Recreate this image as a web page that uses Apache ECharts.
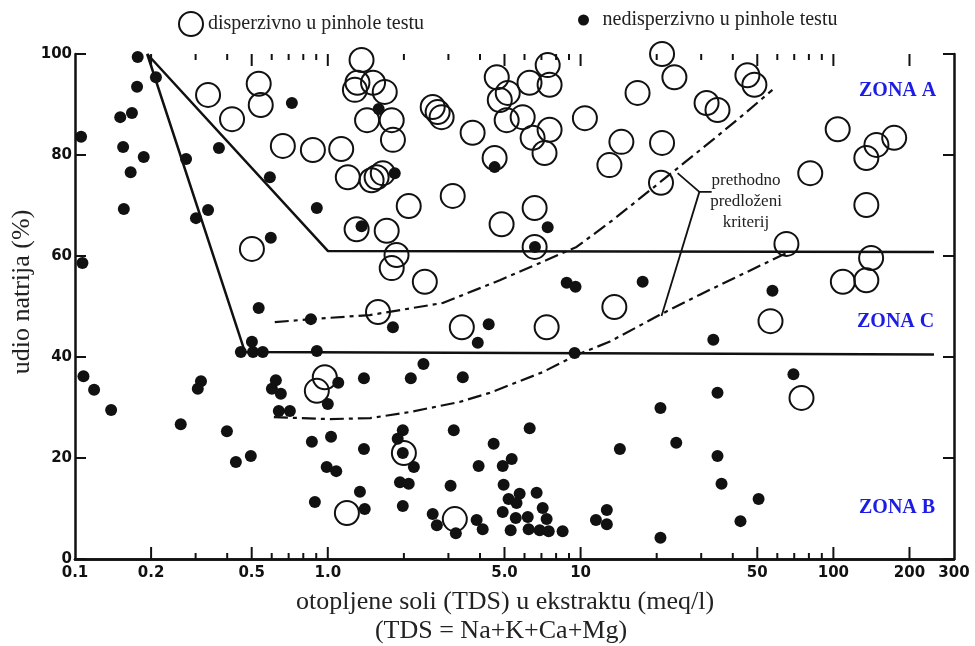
<!DOCTYPE html>
<html>
<head>
<meta charset="utf-8">
<script src="https://cdn.jsdelivr.net/npm/echarts@6/dist/echarts.min.js"></script>
<style>html,body{margin:0;padding:0;background:#fff;}#c{width:975px;height:646px;}</style>
</head>
<body>
<div id="c"></div>
<script>
// ---- tick data ----
const xTickValues = [0.1, 0.2, 0.5, 1, 5, 10, 50, 100, 200, 300];
const xTickLabels = ['0.1', '0.2', '0.5', '1.0', '5.0', '10', '50', '100', '200', '300'];
const xMajorTicks = [0.2, 0.5, 1, 5, 10, 50, 100, 200];
const xMinorTicks = [0.3, 0.4, 0.6, 0.7, 0.8, 0.9, 2, 3, 4, 6, 7, 8, 9, 20, 30, 40, 60, 70, 80, 90];

// ---- series names ----
const nameOpen = 'disperzivno u pinhole testu';
const nameFilled = 'nedisperzivno u pinhole testu';

// ---- dispersive (open circles) [TDS, Na%] ----
const dispersive = [
  [0.336,91.9],[0.418,87.1],[0.533,94.1],[0.543,89.9],[0.664,81.8],[0.873,81.0],[1.13,81.2],[1.20,75.6],[0.501,61.4],[1.30,65.3],
  [1.36,98.8],[1.31,94.3],[1.28,92.9],[1.51,94.3],[1.68,92.5],[1.43,86.9],[1.79,86.9],[1.81,83.0],
  [2.60,89.5],[2.72,88.5],[2.82,87.5],[3.74,84.4],[4.57,79.4],[4.66,95.4],[4.79,90.9],[5.15,92.3],[5.10,86.9],[5.90,87.5],
  [6.28,94.3],[7.41,97.8],[7.54,93.9],[7.54,85.0],[6.46,83.4],[7.20,80.4],[10.4,87.3],[16.8,92.3],[14.5,82.6],[13.0,78.0],
  [1.65,76.4],[1.56,75.6],[1.49,75.0],[2.09,69.9],[3.12,71.9],[1.71,65.0],[4.87,66.3],[6.58,69.5],[6.58,61.8],[1.87,60.2],[1.79,57.6],[2.42,54.9],
  [21,100],[23.5,95.4],[31.5,90.3],[34.8,88.9],[45.7,95.8],[48.7,93.9],[21,82.4],[20.8,74.5],
  [104,85.1],[148,82.0],[174,83.4],[135,79.4],[81,76.4],[135,70.1],[65.2,62.4],[141,59.6],[109,54.9],[135,55.2],
  [1.58,48.9],[3.39,45.9],[7.34,45.9],[13.6,49.9],[2.0,21.0],[3.18,7.9],[0.973,36.0],[0.905,33.3],[1.19,9.1],[56.4,47.1],[74.8,31.9]
];

// ---- non-dispersive (filled dots) [TDS, Na%] ----
const nonDispersive = [
  [0.177,99.4],[0.209,95.4],[0.176,93.5],[0.151,87.5],[0.168,88.3],[0.1057,83.6],[0.155,81.6],[0.187,79.6],[0.166,76.6],[0.371,81.4],
  [0.275,79.2],[0.156,69.3],[0.301,67.5],[0.336,69.1],[0.590,75.6],[0.905,69.5],[0.721,90.3],[0.595,63.6],[0.107,58.6],[1.36,65.9],
  [1.59,89.1],[1.84,76.4],[4.57,77.6],[7.41,65.7],[8.81,54.7],[9.55,53.9],[17.6,54.9],[6.6,61.8],[57.4,53.1],
  [0.533,49.7],[0.857,47.5],[0.501,43.0],[0.453,41.0],[0.506,41.0],[0.553,41.0],[0.905,41.2],[0.108,36.2],[0.119,33.5],[0.139,29.5],
  [0.315,35.2],[0.306,33.7],[0.262,26.7],[0.399,25.3],[0.433,19.2],[0.496,20.4],[0.623,35.4],[0.601,33.7],[0.652,32.7],[0.640,29.3],
  [0.708,29.3],[1.10,34.9],[1.0,30.7],[1.39,35.8],[0.865,23.2],[1.03,24.2],[1.39,21.8],[0.99,18.2],[1.08,17.4],[0.889,11.3],[1.34,13.3],[1.40,9.9],
  [1.81,45.9],[4.33,46.5],[3.92,42.8],[9.47,40.8],[2.39,38.6],[2.13,35.8],[3.42,36.0],[1.98,25.5],[1.89,23.8],[1.98,21.0],[2.19,18.2],
  [3.15,25.5],[6.29,25.9],[4.53,22.8],[3.95,18.4],[4.92,18.4],[5.34,19.8],[1.93,15.2],[2.09,14.9],[3.06,14.5],[4.96,14.7],[1.98,10.5],
  [5.74,12.9],[6.70,13.1],[5.19,11.9],[5.58,11.1],[4.92,9.3],[7.08,10.1],[5.54,8.1],[6.18,8.3],[7.34,7.9],[2.60,8.9],[2.70,6.7],
  [3.21,5.1],[3.88,7.7],[4.10,5.9],[5.29,5.7],[6.23,5.9],[6.89,5.7],[7.48,5.5],[8.49,5.5],[11.5,7.7],[12.7,9.7],[12.7,6.9],
  [14.3,21.8],[20.7,29.9],[20.7,4.2],
  [33.5,43.4],[69.5,36.6],[34.8,32.9],[23.9,23.0],[34.8,20.4],[36.1,14.9],[50.6,11.9],[42.9,7.5]
];

// ---- boundary lines ----
const boundaryAC = [[0.193,100],[1.0,61],[250,60.8]];
const boundaryCB = [[0.193,100],[0.47,41],[250,40.5]];
const prevUpper = [[0.617,46.9],[0.857,47.5],[1.466,48.3],[2.85,50.7],[4.79,55.2],[7.34,59.2],[9.64,61.8],[13.4,67.1],[20.5,74.5],[34.5,83.6],[45.3,88.5],[57.4,92.9]];
const prevLower = [[0.612,28.1],[1.02,27.7],[1.47,27.9],[2.11,29.1],[3.32,31.1],[4.37,32.9],[7.08,37.0],[9.64,40.4],[13.0,43.0],[20.5,48.3],[29.5,52.3],[65.2,60.6]];
const leaderA = [[24.2,76.4],[29.5,72.7],[33.0,72.7]];
const leaderB = [[29.5,72.7],[20.9,48.1]];

const chart = echarts.init(document.getElementById('c'), null, {renderer: 'canvas'});

function labelFor(v) {
  let best = 0, bd = Infinity;
  xTickValues.forEach((t, i) => { const d = Math.abs(Math.log10(t) - Math.log10(v)); if (d < bd) { bd = d; best = i; } });
  return xTickLabels[best];
}

const ink = '#111';
const serif = '"Liberation Serif", "DejaVu Serif", serif';
const tickFont = '"DejaVu Sans", sans-serif';

const lineSeries = (data, style) => ({
  type: 'line', data: data, showSymbol: false, symbol: 'none', silent: true, z: 2,
  lineStyle: Object.assign({color: ink, width: 2.5}, style), animation: false
});

// x ticks drawn at top and bottom frame through the axis scale
const tickSeries = (values, len) => ({
  type: 'custom', silent: true, z: 3, data: values.map(v => [v, 0]),
  renderItem: function (params, api) {
    const b = api.coord([api.value(0), 0]);
    const t = api.coord([api.value(0), 100]);
    const st = {stroke: ink, lineWidth: 2};
    return {type: 'group', children: [
      {type: 'line', shape: {x1: b[0], y1: b[1], x2: b[0], y2: b[1] - len}, style: st},
      {type: 'line', shape: {x1: t[0], y1: t[1], x2: t[0], y2: t[1] + len}, style: st}
    ]};
  }
});

chart.setOption({
  animation: false,
  grid: {left: 75, right: 21, top: 54, bottom: 87},
  legend: [
    {data: [nameOpen], left: 178, top: 11, itemWidth: 24, itemHeight: 24, icon: 'circle', padding: 0,
     itemStyle: {color: 'rgba(0,0,0,0)', borderColor: ink, borderWidth: 2, opacity: 1},
     textStyle: {fontFamily: serif, fontSize: 20, color: '#222', lineHeight: 24}},
    {data: [nameFilled], left: 578, top: 8, itemWidth: 28, itemHeight: 11, icon: 'circle', padding: 0,
     itemStyle: {color: ink, opacity: 1}, textStyle: {fontFamily: serif, fontSize: 20, color: '#222', lineHeight: 24}}
  ],
  xAxis: [
    {type: 'log', logBase: 10, min: 0.1, max: 300, position: 'bottom',
     axisLine: {show: true, lineStyle: {color: ink, width: 2.5}},
     axisTick: {show: false},
     axisLabel: {show: true, customValues: xTickValues, margin: 7, formatter: v => labelFor(v),
       fontFamily: tickFont, fontWeight: 'bold', fontSize: 15, color: ink},
     splitLine: {show: false}},
    {type: 'log', logBase: 10, min: 0.1, max: 300, position: 'top',
     axisLine: {show: true, lineStyle: {color: ink, width: 2.5}},
     axisTick: {show: false}, axisLabel: {show: false}, splitLine: {show: false}}
  ],
  yAxis: [
    {type: 'value', min: 0, max: 100, interval: 20, position: 'left',
     axisLine: {show: true, lineStyle: {color: ink, width: 2.5}},
     axisTick: {show: true, inside: true, length: 11, lineStyle: {color: ink, width: 2}},
     axisLabel: {margin: 3, fontFamily: tickFont, fontWeight: 'bold', fontSize: 15, color: ink},
     splitLine: {show: false}},
    {type: 'value', min: 0, max: 100, interval: 20, position: 'right',
     axisLine: {show: true, lineStyle: {color: ink, width: 2.5}},
     axisTick: {show: true, inside: true, length: 11, lineStyle: {color: ink, width: 2}},
     axisLabel: {show: false}, splitLine: {show: false}}
  ],
  series: [
    tickSeries(xMajorTicks, 12),
    tickSeries(xMinorTicks, 6),
    lineSeries(boundaryAC, {}),
    lineSeries(boundaryCB, {}),
    lineSeries(prevUpper, {type: [14, 5, 4, 5], width: 2.2}),
    lineSeries(prevLower, {type: [14, 5, 4, 5], width: 2.2}),
    lineSeries(leaderA, {width: 1.8}),
    lineSeries(leaderB, {width: 1.8}),
    {name: nameOpen, type: 'scatter', data: dispersive, symbol: 'circle', symbolSize: 24, z: 4,
     itemStyle: {color: 'rgba(0,0,0,0)', borderColor: ink, borderWidth: 2, opacity: 1}},
    {name: nameFilled, type: 'scatter', data: nonDispersive, symbol: 'circle', symbolSize: 12, z: 5,
     itemStyle: {color: ink, opacity: 1}}
  ],
  graphic: [
    {type: 'text', left: 859, top: 81, style: {text: 'ZONA A', font: 'bold 20px ' + serif, fill: '#1c1ce6'}},
    {type: 'text', left: 857, top: 312, style: {text: 'ZONA C', font: 'bold 20px ' + serif, fill: '#1c1ce6'}},
    {type: 'text', left: 859, top: 498, style: {text: 'ZONA B', font: 'bold 20px ' + serif, fill: '#1c1ce6'}},
    {type: 'text', x: 746, y: 170, style: {text: 'prethodno\npredloženi\nkriterij', font: '17px ' + serif, fill: '#222', align: 'center', lineHeight: 21}},
    {type: 'text', x: 505, y: 589, style: {text: 'otopljene soli (TDS) u ekstraktu (meq/l)', font: '26px ' + serif, fill: '#222', align: 'center'}},
    {type: 'text', x: 501, y: 618, style: {text: '(TDS = Na+K+Ca+Mg)', font: '26px ' + serif, fill: '#222', align: 'center'}},
    {type: 'text', x: 22, y: 292, rotation: Math.PI / 2, style: {text: 'udio natrija (%)', font: '26px ' + serif, fill: '#222', align: 'center', verticalAlign: 'middle'}}
  ]
});
</script>
</body>
</html>
